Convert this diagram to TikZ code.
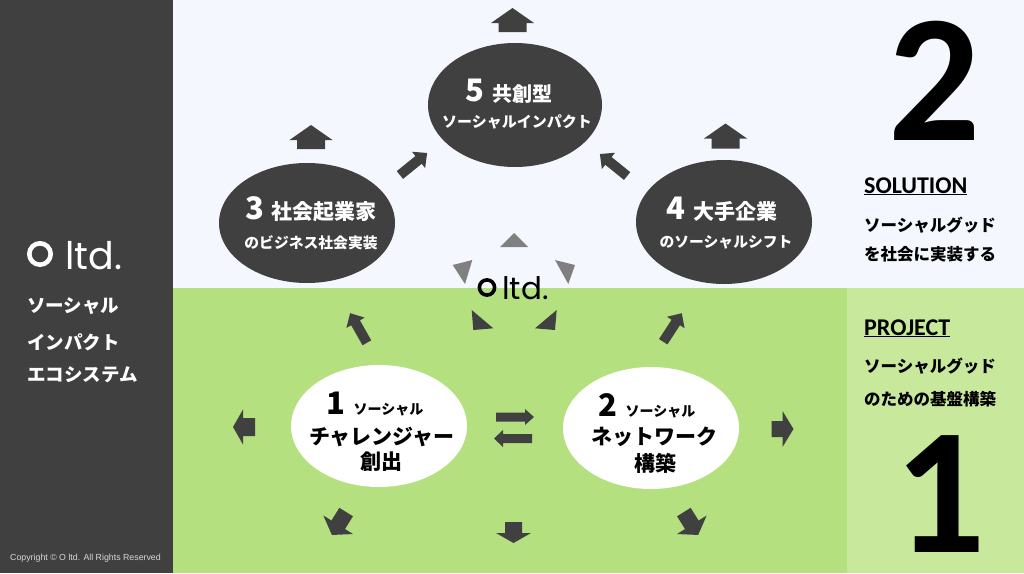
\documentclass[tikz,border=0pt]{standalone}
\usepackage{fontspec}
\usetikzlibrary{shapes.geometric}
\newfontfamily\jp{Noto Sans CJK JP}
\newfontfamily\carl{Carlito}
\newfontfamily\popp{Poppins}
\newfontfamily\libs{Liberation Sans}
\definecolor{dk}{RGB}{64,64,64}
\definecolor{topbg}{RGB}{244,247,254}
\definecolor{grn}{RGB}{181,224,127}
\definecolor{lgrn}{RGB}{200,232,155}
\definecolor{tri}{RGB}{128,128,128}
\definecolor{cpy}{RGB}{215,215,215}
\newcommand{\fz}[1]{\fontsize{#1}{#1}\selectfont}
% center, angle, length, head length, shaft width, head width
\newcommand{\barr}[6]{\fill[dk,shift={(#1)},rotate=#2]
  (-#3/2,-#5/2) -- (#3/2-#4,-#5/2) -- (#3/2-#4,-#6/2) -- (#3/2,0)
  -- (#3/2-#4,#6/2) -- (#3/2-#4,#5/2) -- (-#3/2,#5/2) -- cycle;}
\tikzset{
  dkell/.style={ellipse, fill=dk, inner sep=0pt},
  wtell/.style={ellipse, fill=white, inner sep=0pt},
  wt/.style={inner sep=0pt, text=white, font=\jp\bfseries},
  bk/.style={inner sep=0pt, text=black, font=\jp\bfseries},
}
\begin{document}
\begin{tikzpicture}[x=1pt,y=-1pt]
\useasboundingbox (0,0) rectangle (1024,573);
% backgrounds
\fill[topbg] (173,0) rectangle (1024,288);
\fill[grn] (173,288) rectangle (847,573);
\fill[lgrn] (847,288) rectangle (1024,573);
\fill[dk] (0,0) rectangle (173,573);

% left panel
\draw[white, line width=4.6pt] (40,254) circle (10.7);
\node[anchor=base west, inner sep=0pt, text=white, font=\popp\fz{38}] (llogo) at (65,269) {ltd.};
\node[wt, anchor=west, font=\jp\bfseries\fz{18.5}] (l1) at (27,306) {ソーシャル};
\node[wt, anchor=west, font=\jp\bfseries\fz{18.5}] (l2) at (27,342) {インパクト};
\node[wt, anchor=west, font=\jp\bfseries\fz{18.5}] (l3) at (27,375) {エコシステム};
\node[anchor=west, inner sep=0pt, text=cpy, font=\libs\fz{8.8}] (cp) at (10,558) {Copyright © O ltd. All Rights Reserved};

% right panel
\node[anchor=base, inner sep=0pt, font=\carl\bfseries\fz{182}] (n2) at (935,140) {2};
\node[anchor=base west, inner sep=0pt, font=\carl\bfseries\fz{24}] (sol) at (864,193) {\underline{SOLUTION}};
\node[bk, anchor=west, font=\jp\bfseries\fz{16.5}] (s1) at (864,225) {ソーシャルグッド};
\node[bk, anchor=west, font=\jp\bfseries\fz{16.5}] (s2) at (864,254) {を社会に実装する};
\node[anchor=base west, inner sep=0pt, font=\carl\bfseries\fz{24}] (prj) at (864,335) {\underline{PROJECT}};
\node[bk, anchor=west, font=\jp\bfseries\fz{16.5}] (p1) at (864,366) {ソーシャルグッド};
\node[bk, anchor=west, font=\jp\bfseries\fz{16.5}] (p2) at (864,399) {のための基盤構築};
\node[anchor=base, inner sep=0pt, font=\carl\bfseries\fz{180}] (n1) at (940,552) {1};

% ellipses
\node[dkell, minimum width=174, minimum height=124] (e5) at (515,105) {};
\node[dkell, minimum width=176, minimum height=120] (e3) at (307,223) {};
\node[dkell, minimum width=176, minimum height=124] (e4) at (724,222) {};
\node[wtell, minimum width=176, minimum height=122] (e1) at (379,426) {};
\node[wtell, minimum width=176, minimum height=122] (e2) at (651,428) {};

% ellipse texts
\node[wt, anchor=base] (t5a) at (509,101) {\fz{31}5\hspace{9pt}\fz{20}共創型};
\node[wt] (t5b) at (517,122) {\fz{15}ソーシャルインパクト};
\node[wt, anchor=base] (t3a) at (311,219) {\fz{31}3\hspace{8pt}\fz{21}社会起業家};
\node[wt] (t3b) at (311,243) {\fz{14.8}のビジネス社会実装};
\node[wt, anchor=base] (t4a) at (722,219) {\fz{31}4\hspace{8pt}\fz{21}大手企業};
\node[wt] (t4b) at (726,242) {\fz{14.8}のソーシャルシフト};
\node[bk, anchor=base] (t1a) at (375,414) {\fz{31}1\hspace{8pt}\fz{14}ソーシャル};
\node[bk] (t1b) at (382,437) {\fz{21}チャレンジャー};
\node[bk] (t1c) at (381,462) {\fz{21}創出};
\node[bk, anchor=base] (t2a) at (647,416) {\fz{31}2\hspace{8pt}\fz{14}ソーシャル};
\node[bk] (t2b) at (654,437) {\fz{21}ネットワーク};
\node[bk] (t2c) at (655,463) {\fz{21}構築};

% block arrows
\barr{512.5,20}{90}{24}{15}{28}{43}
\barr{311,137}{90}{24}{15}{28}{43}
\barr{725.5,136}{90}{25}{15}{28}{43}
\barr{413.5,164}{39}{35}{11}{10}{21}
\barr{613.5,165}{141}{35}{11}{10}{21}
\barr{358.5,328}{119.5}{34}{11}{10}{21}
\barr{672.5,327.5}{57}{34}{11}{10}{21}
\barr{244,427}{180}{22}{10}{18}{35}
\barr{782.5,429}{0}{22}{11}{16}{36}
\barr{513.5,532.5}{-90}{21}{10}{17}{35}
\barr{339,523.5}{-122}{27}{12}{16}{35}
\barr{691,523.5}{-58}{27}{12}{16}{35}
\barr{515,417}{0}{38}{9}{9}{16}
\barr{513,438.5}{180}{38}{9}{9}{17}

% centre logo and triangles
\fill[tri] (500,247) -- (528,247) -- (514,233) -- cycle;
\fill[tri] (452.7,265) -- (472.3,260) -- (465,284) -- cycle;
\fill[tri] (555,260) -- (575,265) -- (568.3,284) -- cycle;
\fill[dk] (471.7,310) -- (493.3,328.3) -- (473.3,330) -- cycle;
\fill[dk] (556.7,310) -- (555,330) -- (535,328.3) -- cycle;
\draw[black, line width=3.6pt] (487,287.5) circle (7.6);
\node[anchor=base west, inner sep=0pt, text=black, font=\popp\fz{31}] (clogo) at (502,299) {ltd.};
\end{tikzpicture}
\end{document}
